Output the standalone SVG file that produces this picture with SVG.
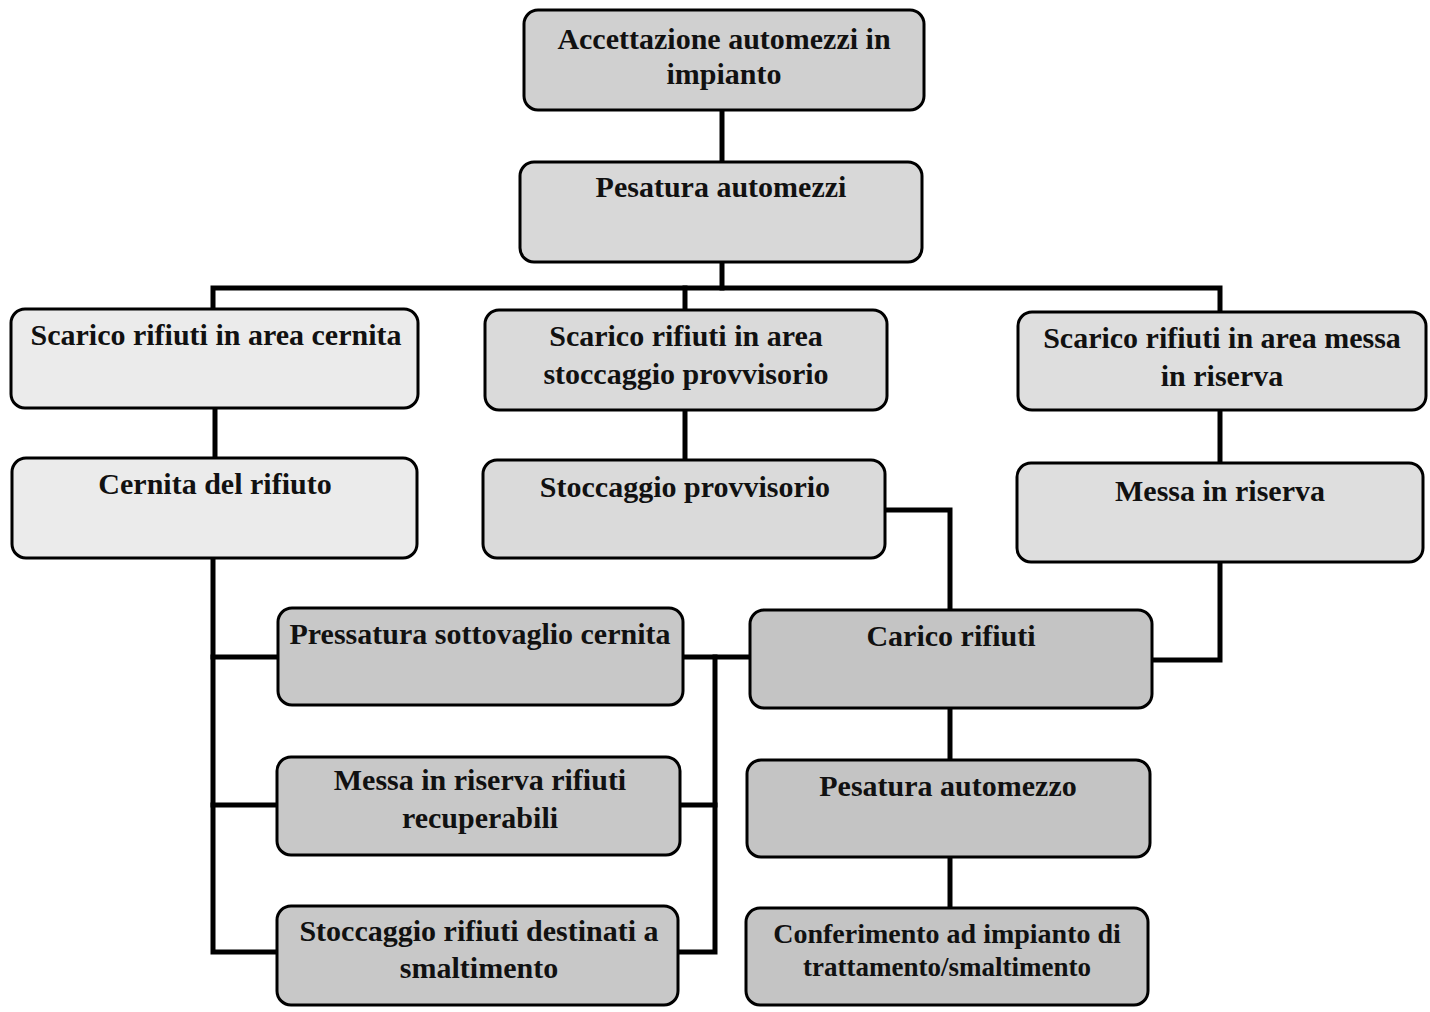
<svg xmlns="http://www.w3.org/2000/svg" width="1430" height="1012" viewBox="0 0 1430 1012">
<style>
.box{stroke:#000;stroke-width:3}
.t{font-family:"Liberation Serif","Times New Roman",serif;font-size:30px;font-weight:bold;fill:#111;text-anchor:middle}
.c{fill:none;stroke:#000;stroke-width:5;stroke-linejoin:miter;stroke-linecap:square}
</style>
<rect width="1430" height="1012" fill="#fff"/>
<g id="connectors">
<path class="c" d="M722 110V162"/>
<path class="c" d="M722 262V288"/>
<path class="c" d="M213 310V288H1220V312"/>
<path class="c" d="M685 288V310"/>
<path class="c" d="M215 408V458"/>
<path class="c" d="M685 410V460"/>
<path class="c" d="M1220 410V463"/>
<path class="c" d="M213 558V952H277"/>
<path class="c" d="M213 657H277"/>
<path class="c" d="M213 805H277"/>
<path class="c" d="M683 657H750"/>
<path class="c" d="M715 657V952H678"/>
<path class="c" d="M715 805H680"/>
<path class="c" d="M885 510H950V610"/>
<path class="c" d="M1150 660H1220V562"/>
<path class="c" d="M950 708V760"/>
<path class="c" d="M950 857V908"/>
</g>
<g id="n1"><rect class="box" x="524" y="10" width="400" height="100" rx="14" fill="#d0d0d0"/><text class="t" x="724" y="49">Accettazione automezzi in</text><text class="t" x="724" y="84">impianto</text></g>
<g id="n2"><rect class="box" x="520" y="162" width="402" height="100" rx="14" fill="#d8d8d8"/><text class="t" x="721" y="197">Pesatura automezzi</text></g>
<g id="n3"><rect class="box" x="11" y="309" width="407" height="99" rx="14" fill="#ebebeb"/><text class="t" x="216" y="345">Scarico rifiuti in area cernita</text></g>
<g id="n4"><rect class="box" x="12" y="458" width="405" height="100" rx="14" fill="#ebebeb"/><text class="t" x="215" y="494">Cernita del rifiuto</text></g>
<g id="n5"><rect class="box" x="485" y="310" width="402" height="100" rx="14" fill="#dadada"/><text class="t" x="686" y="346">Scarico rifiuti in area</text><text class="t" x="686" y="384">stoccaggio provvisorio</text></g>
<g id="n6"><rect class="box" x="483" y="460" width="402" height="98" rx="14" fill="#dadada"/><text class="t" x="685" y="497">Stoccaggio provvisorio</text></g>
<g id="n7"><rect class="box" x="1018" y="312" width="408" height="98" rx="14" fill="#dedede"/><text class="t" x="1222" y="348">Scarico rifiuti in area messa</text><text class="t" x="1222" y="386">in riserva</text></g>
<g id="n8"><rect class="box" x="1017" y="463" width="406" height="99" rx="14" fill="#dedede"/><text class="t" x="1220" y="501">Messa in riserva</text></g>
<g id="n9"><rect class="box" x="278" y="608" width="405" height="97" rx="14" fill="#c8c8c8"/><text class="t" x="480" y="644">Pressatura sottovaglio cernita</text></g>
<g id="n10"><rect class="box" x="277" y="757" width="403" height="98" rx="14" fill="#c8c8c8"/><text class="t" x="480" y="790">Messa in riserva rifiuti</text><text class="t" x="480" y="828">recuperabili</text></g>
<g id="n11"><rect class="box" x="277" y="906" width="401" height="99" rx="14" fill="#c8c8c8"/><text class="t" x="479" y="941">Stoccaggio rifiuti destinati a</text><text class="t" x="479" y="978">smaltimento</text></g>
<g id="n12"><rect class="box" x="750" y="610" width="402" height="98" rx="14" fill="#c4c4c4"/><text class="t" x="951" y="646">Carico rifiuti</text></g>
<g id="n13"><rect class="box" x="747" y="760" width="403" height="97" rx="14" fill="#c4c4c4"/><text class="t" x="948" y="796">Pesatura automezzo</text></g>
<g id="n14"><rect class="box" x="746" y="908" width="402" height="97" rx="14" fill="#c4c4c4"/><text class="t" x="947" y="943" style="font-size:28px">Conferimento ad impianto di</text><text class="t" x="947" y="976" style="font-size:27px">trattamento/smaltimento</text></g>
</svg>
